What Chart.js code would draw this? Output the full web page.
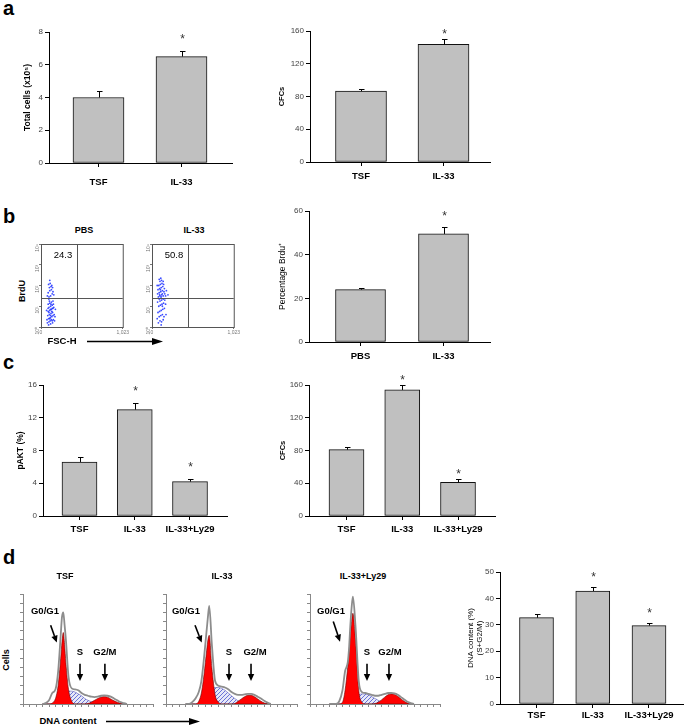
<!DOCTYPE html>
<html>
<head>
<meta charset="utf-8">
<script src="https://cdn.jsdelivr.net/npm/chart.js@4.4.0/dist/chart.umd.min.js"></script>
<style>
  body { margin: 0; background: #fff; }
  #fig { position: relative; width: 685px; height: 727px; overflow: hidden;
         font-family: "Liberation Sans", Arial, Helvetica, sans-serif; }
  #fig canvas { position: absolute; }
  .t { position: absolute; white-space: nowrap; color: #000; line-height: 1; }
  .b { font-weight: bold; }
  .letter { font-size: 20px; font-weight: bold; line-height: 20px; }
  .c { transform: translate(-50%, -50%); }
  .rot { transform: translate(-50%, -50%) rotate(-90deg); }
  svg { position: absolute; }
</style>
</head>
<body>
<div id="fig">
  <div class="t letter" style="left:3px;top:-2px">a</div>
  <div class="t letter" style="left:3px;top:206px">b</div>
  <div class="t letter" style="left:3px;top:352px">c</div>
  <div class="t letter" style="left:3px;top:547px">d</div>

  <canvas id="aCells"></canvas>
  <canvas id="aCfc"></canvas>

  <div class="t b c" style="left:84px;top:230px;font-size:9px">PBS</div>
  <div class="t b c" style="left:194px;top:230px;font-size:9px">IL-33</div>
  <div class="t b rot" style="left:22px;top:291px;font-size:9px">BrdU</div>
  <canvas id="bPbs"></canvas>
  <canvas id="bIl33"></canvas>
  <div class="t c" style="left:63px;top:255px;font-size:9.5px">24.3</div>
  <div class="t c" style="left:174px;top:255px;font-size:9.5px">50.8</div>
  <div class="t b c" style="left:62px;top:341px;font-size:9.5px">FSC-H</div>
  <svg style="left:87px;top:337px" width="78" height="10">
    <line x1="0" y1="4.5" x2="68" y2="4.5" stroke="#000" stroke-width="1.3"/>
    <polygon points="76,4.5 65,1 65,8" fill="#000"/>
  </svg>
  <canvas id="bBrdu"></canvas>

  <canvas id="cPakt"></canvas>
  <canvas id="cCfc"></canvas>

  <div class="t b c" style="left:65px;top:576px;font-size:9px">TSF</div>
  <div class="t b c" style="left:222px;top:576px;font-size:9px">IL-33</div>
  <div class="t b c" style="left:363px;top:576px;font-size:9px">IL-33+Ly29</div>
  <div class="t b rot" style="left:6px;top:660px;font-size:9px">Cells</div>
  <canvas id="dTsf"></canvas>
  <canvas id="dIl33"></canvas>
  <canvas id="dLy29"></canvas>
  <div class="t b c" style="left:68px;top:721px;font-size:9.5px">DNA content</div>
  <svg style="left:106px;top:717px" width="96" height="10">
    <line x1="0" y1="4.5" x2="86" y2="4.5" stroke="#000" stroke-width="1.3"/>
    <polygon points="94,4.5 83,1 83,8" fill="#000"/>
  </svg>
  <canvas id="dDna"></canvas>
</div>

<script>
// ---- data ----
// panel a
const aCats = ['TSF', 'IL-33'];
const totalCells = [4.0, 6.5];
const totalCellsErr = [0.4, 0.37];
const cfcA = [86.5, 143.8];
const cfcAErr = [3, 6.5];
const sigA = [false, true];

// panel b
const bCats = ['PBS', 'IL-33'];
const brduPct = [24.0, 49.5];
const brduErr = [0.9, 3.0];
const sigB = [false, true];
const fscTicks = [0, 1023];
const brduTicks = ['10\u2070', '10\u00b9', '10\u00b2', '10\u00b3', '10\u2074'];
const gate = [450, 1.4];   // FSC channel, BrdU decade
// [FSC channel, BrdU decade]
const pbsDots = [
  [80,0.2],[100,0.25],[120,0.15],[140,0.3],[95,0.4],[115,0.45],[135,0.5],[155,0.35],
  [85,0.55],[105,0.6],[125,0.65],[145,0.7],[165,0.6],[90,0.75],[110,0.8],[130,0.85],
  [150,0.9],[100,0.95],[120,1.0],[140,1.05],[160,0.95],[90,1.1],[110,1.15],[130,1.2],
  [150,1.25],[75,0.35],[70,0.8],[175,0.5],[180,0.85],[115,0.3],[135,0.75],[125,1.1],
  [105,1.25],[145,0.2],[95,0.1],[155,1.1],[170,0.3],[120,0.55],[100,0.7],[140,0.9],
  [110,0.4],[130,0.35],[88,0.9],[150,0.55],[118,0.85],[98,1.35],
  [100,1.45],[120,1.5],[140,1.6],[90,1.65],[110,1.75],[130,1.8],[150,1.7],[105,1.9],
  [125,1.95],[95,2.05],[115,2.1],[135,2.0],[110,2.25],[160,1.55],[80,1.5],[145,1.9]
];
const il33Dots = [
  [80,1.45],[100,1.5],[120,1.55],[140,1.5],[160,1.6],[90,1.65],[110,1.7],[130,1.75],
  [150,1.7],[75,1.8],[95,1.85],[115,1.9],[135,1.95],[155,1.85],[85,2.0],[105,2.05],
  [125,2.1],[145,2.05],[100,2.2],[120,2.25],[90,2.3],[110,2.35],[170,1.5],[180,1.75],
  [70,1.6],[65,2.0],[140,2.2],[200,1.55],[115,1.45],[130,1.6],[95,1.55],[105,1.8],
  [80,0.2],[100,0.3],[120,0.25],[140,0.35],[90,0.5],[110,0.55],[130,0.6],[150,0.5],
  [75,0.7],[95,0.75],[115,0.8],[135,0.85],[155,0.9],[85,1.0],[105,1.05],[125,1.1],
  [145,1.15],[100,1.25],[120,1.3],[70,1.2],[160,1.3],[140,1.35],[110,1.38],[90,1.35],
  [130,1.0],[170,1.1],[65,0.4],[175,0.6],[115,0.1]
];

// panel c
const cCats = ['TSF', 'IL-33', 'IL-33+Ly29'];
const pakt = [6.6, 13.0, 4.2];
const paktErr = [0.6, 0.75, 0.35];
const cfcC = [81, 154, 41];
const cfcCErr = [3.5, 5.5, 4];
const sigC = [false, true, true];

// panel d
const dnaPct = [32.7, 42.8, 29.7];
const dnaErr = [1.5, 1.5, 1.1];
const channel = [30,35,40,45,50,54,58,60,62,64,66,70,75,80,85,90,95,100,105,110,115,120,125,130,135,140,145,150,155,160];
const tsfTotal = [0,0.1,0.4,1.2,1.6,3.5,7.5,9.5,10.0,8.6,7.0,3.0,1.7,1.6,1.5,1.2,1.0,0.9,0.8,0.75,0.8,0.9,0.95,0.9,0.8,0.6,0.4,0.2,0.1,0];
const tsfG1    = [0,0,0,0.1,0.6,2.0,5.0,6.8,7.8,6.5,4.5,1.6,0.3,0,0,0,0,0,0,0,0,0,0,0,0,0,0,0,0,0];
const tsfS     = [0,0,0,0,0,0.3,0.6,0.8,1.0,1.2,1.3,1.4,1.4,1.3,1.1,0.9,0.6,0.4,0.25,0.15,0.05,0,0,0,0,0,0,0,0,0];
const tsfG2M   = [0,0,0,0,0,0,0,0,0,0,0,0,0,0,0,0,0,0.05,0.2,0.4,0.6,0.75,0.8,0.75,0.55,0.35,0.2,0.08,0,0];
const il33Total = [0,0,0.2,0.6,1.3,2.5,5.0,6.5,8.0,9.5,10.7,6.5,2.5,2.0,1.9,1.8,1.6,1.3,1.1,1.0,1.0,1.05,1.1,1.1,1.0,0.8,0.6,0.35,0.15,0];
const il33G1    = [0,0,0,0,0.3,1.2,3.2,4.5,5.8,7.0,7.5,4.0,1.0,0.2,0,0,0,0,0,0,0,0,0,0,0,0,0,0,0,0];
const il33S     = [0,0,0,0,0,0,0.3,0.5,0.7,0.9,1.1,1.5,1.8,1.8,1.7,1.5,1.2,0.9,0.6,0.35,0.15,0.05,0,0,0,0,0,0,0,0];
const il33G2M   = [0,0,0,0,0,0,0,0,0,0,0,0,0,0,0,0,0,0,0.05,0.3,0.55,0.8,0.95,0.95,0.8,0.55,0.3,0.12,0.03,0];
const lyTotal = [0,0,0,0.3,1.5,3.6,4.5,6.0,8.5,10.5,11.7,8.5,2.5,1.3,1.2,1.1,1.0,0.9,0.9,1.0,1.1,1.2,1.2,1.15,1.0,0.75,0.5,0.25,0.1,0];
const lyG1    = [0,0,0,0,0.2,1.5,4.0,5.5,7.5,9.0,9.9,7.0,1.5,0.2,0,0,0,0,0,0,0,0,0,0,0,0,0,0,0,0];
const lyS     = [0,0,0,0,0,0,0,0,0.2,0.3,0.4,0.7,1.0,1.1,1.1,1.0,0.8,0.6,0.4,0.2,0.1,0,0,0,0,0,0,0,0,0];
const lyG2M   = [0,0,0,0,0,0,0,0,0,0,0,0,0,0,0,0,0,0.05,0.2,0.45,0.75,1.0,1.1,1.05,0.85,0.55,0.3,0.1,0,0];

// ---- helpers ----
Chart.defaults.font.family = '"Liberation Sans", Arial, Helvetica, sans-serif';
Chart.defaults.color = '#000';

function place(id, box) {
  const cv = document.getElementById(id);
  cv.width = box[2]; cv.height = box[3];
  cv.style.left = box[0] + 'px'; cv.style.top = box[1] + 'px';
  cv.style.width = box[2] + 'px'; cv.style.height = box[3] + 'px';
  return cv;
}

// box = canvas [left, top, w, h], area = plot area [left, top, right, bottom] in page px
function frame(box, area) {
  return {
    padding: { left: 0, top: area[1] - box[1], right: box[0] + box[2] - area[2], bottom: 0 },
    yW: area[0] - box[0],
    xH: box[1] + box[3] - area[3]
  };
}

const baseOpts = {
  responsive: false, animation: false, devicePixelRatio: 1, events: []
};

function arrow(ctx, x1, y1, x2, y2) {
  const a = Math.atan2(y2 - y1, x2 - x1), L = 7, w = 3.2;
  const bx = x2 - L * Math.cos(a), by = y2 - L * Math.sin(a);
  ctx.lineWidth = 1.6;
  ctx.beginPath(); ctx.moveTo(x1, y1); ctx.lineTo(bx, by); ctx.stroke();
  ctx.beginPath();
  ctx.moveTo(x2, y2);
  ctx.lineTo(bx - w * Math.sin(a), by + w * Math.cos(a));
  ctx.lineTo(bx + w * Math.sin(a), by - w * Math.cos(a));
  ctx.closePath(); ctx.fill();
}

const errBars = {
  id: 'errbars',
  afterDatasetsDraw(chart, args, opts) {
    const { ctx, scales: { y } } = chart;
    const vals = chart.data.datasets[0].data;
    ctx.save();
    ctx.strokeStyle = '#000'; ctx.fillStyle = '#333'; ctx.lineWidth = 1;
    chart.getDatasetMeta(0).data.forEach((bar, i) => {
      const top = Math.round(y.getPixelForValue(vals[i].y + opts.err[i])) + 0.5;
      const x = Math.round(bar.x) + 0.5;
      ctx.beginPath();
      ctx.moveTo(x, bar.y); ctx.lineTo(x, top);
      ctx.moveTo(x - 2.5, top); ctx.lineTo(x + 3, top);
      ctx.stroke();
      if (opts.sig[i]) {
        ctx.font = '12px "Liberation Sans", Arial';
        ctx.textAlign = 'center'; ctx.textBaseline = 'alphabetic';
        ctx.fillText('*', x, top - opts.gap + 7);
      }
    });
    ctx.restore();
  }
};

const quad = {
  id: 'quad',
  afterDatasetsDraw(chart, args, opts) {
    const { ctx, chartArea: a, scales: { x, y } } = chart;
    const gx = Math.round(x.getPixelForValue(opts.x)) + 0.5;
    const gy = Math.round(y.getPixelForValue(opts.y)) + 0.5;
    ctx.save();
    ctx.strokeStyle = '#555'; ctx.lineWidth = 1;
    ctx.strokeRect(a.left + 0.5, a.top + 0.5, a.width, a.height);
    ctx.beginPath();
    ctx.moveTo(gx, a.top); ctx.lineTo(gx, a.bottom);
    ctx.moveTo(a.left, gy); ctx.lineTo(a.right, gy);
    ctx.stroke();
    ctx.restore();
  }
};

const notes = {
  id: 'notes',
  afterDatasetsDraw(chart, args, opts) {
    const { ctx, scales: { x, y } } = chart;
    ctx.save();
    ctx.fillStyle = '#000'; ctx.strokeStyle = '#000';
    ctx.font = 'bold 9.5px "Liberation Sans", Arial';
    ctx.textAlign = 'center'; ctx.textBaseline = 'middle';
    opts.labels.forEach(l => ctx.fillText(l[0], x.getPixelForValue(l[1]), y.getPixelForValue(l[2])));
    opts.arrows.forEach(r => arrow(ctx, x.getPixelForValue(r[0]), y.getPixelForValue(r[1]),
                                        x.getPixelForValue(r[2]), y.getPixelForValue(r[3])));
    ctx.restore();
  }
};

function barChart(id, cats, vals, err, sig, g) {
  const cv = place(id, g.box);
  const f = frame(g.box, g.area);
  const xMin = -(g.first - g.area[0]) / g.step;
  const xMax = xMin + (g.area[2] - g.area[0]) / g.step;
  const lh = g.tSize * 1.1;
  return new Chart(cv, {
    type: 'bar',
    data: { datasets: [{
      data: cats.map((c, i) => ({ x: i, y: vals[i] })),
      backgroundColor: '#c0c0c0', borderColor: '#111', borderWidth: 1,
      borderSkipped: false, barThickness: g.barW
    }] },
    options: Object.assign({}, baseOpts, {
      layout: { padding: f.padding },
      plugins: { legend: { display: false }, tooltip: { enabled: false },
                 errbars: { err: err, sig: sig, gap: g.gap } },
      scales: {
        x: {
          type: 'linear', min: xMin, max: xMax, offset: false,
          afterBuildTicks: s => { s.ticks = cats.map((c, i) => ({ value: i })); },
          afterFit: s => { s.height = f.xH; },
          grid: { offset: false, drawOnChartArea: false, tickLength: 4, color: '#000' },
          border: { color: '#000' },
          ticks: { callback: v => cats[v] ?? '', font: { size: 9.5, weight: 'bold' },
                   padding: g.labPad, maxRotation: 0, autoSkip: false, color: '#000' }
        },
        y: {
          min: 0, max: g.ymax,
          afterFit: s => { s.width = f.yW; },
          grid: { drawOnChartArea: false, tickLength: 4, color: '#000' },
          border: { color: '#000' },
          ticks: { stepSize: g.ystep, font: { size: 8 }, color: '#444', padding: 2 },
          title: { display: true, text: g.title, color: '#000',
                   font: { size: g.tSize, weight: g.tBold ? 'bold' : 'normal', lineHeight: 1.1 },
                   padding: { top: g.titleX - g.box[0] - lh / 2, bottom: 0 } }
        }
      }
    }),
    plugins: [errBars]
  });
}

function dotPlot(id, pts, g) {
  const cv = place(id, g.box);
  const f = frame(g.box, g.area);
  return new Chart(cv, {
    type: 'scatter',
    data: { datasets: [{
      data: pts.map(p => ({ x: p[0], y: p[1] })),
      pointRadius: 0.9, pointBorderWidth: 0, backgroundColor: 'rgba(25,45,255,0.85)'
    }] },
    options: Object.assign({}, baseOpts, {
      layout: { padding: f.padding },
      plugins: { legend: { display: false }, tooltip: { enabled: false },
                 quad: { x: gate[0], y: gate[1] } },
      scales: {
        x: {
          type: 'linear', min: 0, max: 1023,
          afterBuildTicks: s => { s.ticks = fscTicks.map(v => ({ value: v })); },
          afterFit: s => { s.height = f.xH; },
          grid: { drawOnChartArea: false, tickLength: 2, color: '#777' },
          border: { color: '#555' },
          ticks: { font: { size: 5 }, color: '#777', padding: 1, maxRotation: 0, autoSkip: false }
        },
        y: {
          min: 0, max: 4,
          afterBuildTicks: s => { s.ticks = brduTicks.map((t, i) => ({ value: i })); },
          afterFit: s => { s.width = f.yW; },
          grid: { drawOnChartArea: false, tickLength: 2, color: '#777' },
          border: { color: '#555' },
          ticks: { callback: v => brduTicks[v], font: { size: 5 }, color: '#777',
                   padding: 1, minRotation: 90, maxRotation: 90 }
        }
      }
    }),
    plugins: [quad]
  });
}

function hatch() {
  const c = document.createElement('canvas');
  c.width = 4; c.height = 4;
  const g = c.getContext('2d');
  g.fillStyle = '#e6e8f8'; g.fillRect(0, 0, 4, 4);
  g.strokeStyle = '#6a72d8'; g.lineWidth = 1;
  g.beginPath(); g.moveTo(0, 4); g.lineTo(4, 0); g.stroke();
  return g.createPattern(c, 'repeat');
}

function histChart(id, total, g1, s, g2m, g) {
  const cv = place(id, g.box);
  const f = frame(g.box, g.area);
  const pts = arr => channel.map((x, i) => ({ x: x, y: arr[i] }));
  return new Chart(cv, {
    type: 'line',
    data: { datasets: [
      { data: pts(total), borderColor: '#8d8d8d', borderWidth: 1.8, fill: false, order: 0 },
      { data: pts(g1), borderColor: '#6a0000', borderWidth: 0.6, backgroundColor: '#ff0000', fill: 'origin', order: 1 },
      { data: pts(g2m), borderColor: '#6a0000', borderWidth: 0.6, backgroundColor: '#ff0000', fill: 'origin', order: 2 },
      { data: pts(s), borderColor: '#5a5ab8', borderWidth: 0.6, backgroundColor: hatch(), fill: 'origin', order: 3 }
    ] },
    options: Object.assign({}, baseOpts, {
      layout: { padding: f.padding },
      elements: { point: { radius: 0 }, line: { cubicInterpolationMode: 'monotone' } },
      plugins: { legend: { display: false }, tooltip: { enabled: false }, notes: g.notes },
      scales: {
        x: {
          type: 'linear', min: 0, max: 200,
          afterFit: s => { s.height = f.xH; },
          grid: { drawOnChartArea: false, tickLength: 3, color: '#888' },
          border: { color: '#888' },
          ticks: { display: false, stepSize: 10 }
        },
        y: {
          min: 0, max: 12,
          afterFit: s => { s.width = f.yW; },
          grid: { drawOnChartArea: false, tickLength: 3, color: '#888' },
          border: { color: '#888' },
          ticks: { display: false, stepSize: 1 }
        }
      }
    }),
    plugins: [notes]
  });
}

// ---- panel a ----
barChart('aCells', aCats, totalCells, totalCellsErr, sigA, {
  box: [0, 20, 245, 180], area: [49, 32, 232, 163], first: 98.5, step: 83, barW: 51,
  ymax: 8, ystep: 2, title: 'Total cells (x10\u2075)', tSize: 8.5, tBold: true, titleX: 28,
  labPad: 10, gap: 16
});
barChart('aCfc', aCats, cfcA, cfcAErr, sigA, {
  box: [255, 20, 245, 180], area: [310, 31, 490, 162], first: 361, step: 82.5, barW: 51,
  ymax: 160, ystep: 40, title: 'CFCs', tSize: 7.5, tBold: true, titleX: 282,
  labPad: 5, gap: 9
});

// ---- panel b ----
dotPlot('bPbs', pbsDots, { box: [25, 236, 105, 100], area: [41, 244, 125, 327] });
dotPlot('bIl33', il33Dots, { box: [136, 236, 105, 100], area: [152, 244, 236, 327] });
barChart('bBrdu', bCats, brduPct, brduErr, sigB, {
  box: [255, 200, 245, 165], area: [309, 211, 490, 342], first: 360.5, step: 83, barW: 50,
  ymax: 60, ystep: 20, title: 'Percentage Brdu\u207a', tSize: 8.5, tBold: false, titleX: 283,
  labPad: 5, gap: 15
});

// ---- panel c ----
barChart('cPakt', cCats, pakt, paktErr, sigC, {
  box: [0, 370, 240, 175], area: [43, 385, 227, 516], first: 79.5, step: 55.25, barW: 35,
  ymax: 16, ystep: 4, title: 'pAKT (%)', tSize: 8.5, tBold: true, titleX: 21,
  labPad: 4, gap: 16
});
barChart('cCfc', cCats, cfcC, cfcCErr, sigC, {
  box: [255, 370, 245, 175], area: [309, 385, 495, 516], first: 346.5, step: 55.75, barW: 35,
  ymax: 160, ystep: 40, title: 'CFCs', tSize: 7.5, tBold: true, titleX: 283,
  labPad: 4, gap: 9
});

// ---- panel d ----
histChart('dTsf', tsfTotal, tsfG1, tsfS, tsfG2M, {
  box: [13, 588, 145, 122], area: [23, 594, 153, 704],
  notes: { labels: [['G0/G1', 33.8, 10.15], ['S', 87.7, 5.67], ['G2/M', 126, 5.67]],
           arrows: [[42.5, 8.6, 52, 6.7], [87.7, 4.4, 87.7, 2.5], [126, 4.4, 126, 2.5]] }
});
histChart('dIl33', il33Total, il33G1, il33S, il33G2M, {
  box: [156, 588, 145, 122], area: [166, 594, 297, 704],
  notes: { labels: [['G0/G1', 30.5, 10.15], ['S', 96.2, 5.67], ['G2/M', 135.9, 5.67]],
           arrows: [[44.3, 8.6, 54.5, 6.7], [96.2, 4.4, 96.2, 2.5], [129.8, 4.4, 129.8, 2.5]] }
});
histChart('dLy29', lyTotal, lyG1, lyS, lyG2M, {
  box: [300, 588, 145, 122], area: [310, 594, 440, 704],
  notes: { labels: [['G0/G1', 32.3, 10.15], ['S', 87.7, 5.67], ['G2/M', 123, 5.67]],
           arrows: [[35.8, 9.0, 46.2, 6.8], [87.7, 4.4, 87.7, 2.5], [121.5, 4.4, 121.5, 2.5]] }
});
barChart('dDna', cCats, dnaPct, dnaErr, sigC, {
  box: [455, 555, 230, 172], area: [500, 572, 683, 704], first: 536.5, step: 56.25, barW: 34,
  ymax: 50, ystep: 10, title: ['DNA content (%)', '(S+G2/M)'], tSize: 8, tBold: false, titleX: 471,
  labPad: 2, gap: 14
});
</script>
</body>
</html>
